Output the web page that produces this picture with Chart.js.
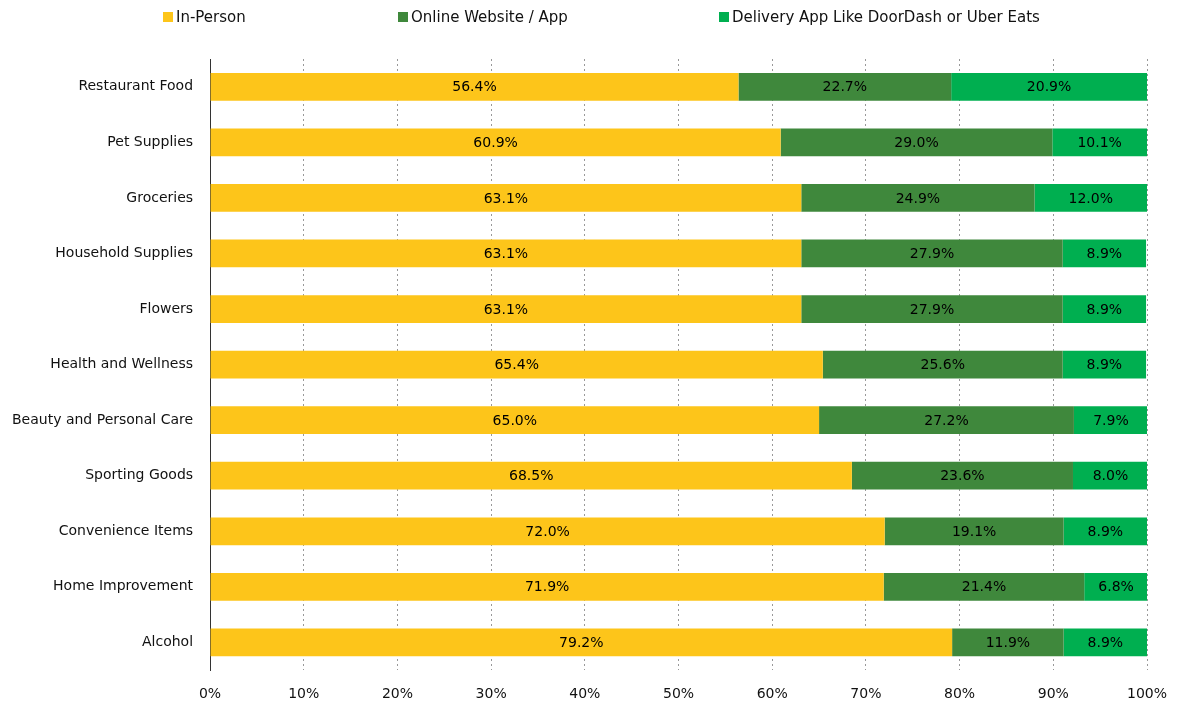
<!DOCTYPE html>
<html>
<head>
<meta charset="utf-8">
<script src="https://cdn.jsdelivr.net/npm/chart.js@4"></script>
<style>
  html, body { margin: 0; padding: 0; background: #fff; }
  #wrap { position: relative; width: 1181px; height: 704px; }
  #legend { position: absolute; top: 0; left: 0; width: 1181px; height: 40px;
    font-family: 'DejaVu Sans', sans-serif; font-size: 15px; color: #111; }
  .item { position: absolute; top: 8px; display: flex; align-items: center; white-space: nowrap; }
  .item span.box { width: 10px; height: 10px; margin-right: 3px; display: inline-block; }
</style>
</head>
<body>
<div id="wrap">
  <div id="legend"></div>
  <canvas id="chart" width="1181" height="704"></canvas>
</div>
<script>
// categories (top to bottom)
const categories = ['Restaurant Food', 'Pet Supplies', 'Groceries', 'Household Supplies', 'Flowers',
  'Health and Wellness', 'Beauty and Personal Care', 'Sporting Goods', 'Convenience Items',
  'Home Improvement', 'Alcohol'];

const seriesNames = ['In-Person', 'Online Website / App', 'Delivery App Like DoorDash or Uber Eats'];

const inPerson = [56.4, 60.9, 63.1, 63.1, 63.1, 65.4, 65.0, 68.5, 72.0, 71.9, 79.2];
const online   = [22.7, 29.0, 24.9, 27.9, 27.9, 25.6, 27.2, 23.6, 19.1, 21.4, 11.9];
const delivery = [20.9, 10.1, 12.0, 8.9, 8.9, 8.9, 7.9, 8.0, 8.9, 6.8, 8.9];

const xTicks = [0, 10, 20, 30, 40, 50, 60, 70, 80, 90, 100];

const colors = ['#FDC51A', '#3F883C', '#00AF50'];
const FONT = "'DejaVu Sans', sans-serif";

// html legend, spaced like the original
const legendLeft = [163, 398, 719];
const legendEl = document.getElementById('legend');
seriesNames.forEach((name, i) => {
  const it = document.createElement('div');
  it.className = 'item';
  it.style.left = legendLeft[i] + 'px';
  it.innerHTML = '<span class="box" style="background:' + colors[i] + '"></span><span>' + name + '</span>';
  legendEl.appendChild(it);
});

// draws value text in the middle of every segment
const valueLabels = {
  id: 'valueLabels',
  afterDatasetsDraw(chart) {
    const ctx = chart.ctx;
    ctx.save();
    ctx.font = '14px ' + FONT;
    ctx.fillStyle = '#000';
    ctx.textAlign = 'center';
    ctx.textBaseline = 'middle';
    chart.data.datasets.forEach((ds, di) => {
      chart.getDatasetMeta(di).data.forEach((bar, i) => {
        const p = bar.getProps(['x', 'y', 'base'], true);
        ctx.fillText(ds.data[i].toFixed(1) + '%', (p.x + p.base) / 2, p.y + 1);
      });
    });
    ctx.restore();
  }
};

const series = [inPerson, online, delivery];

new Chart(document.getElementById('chart'), {
  type: 'bar',
  data: {
    labels: categories,
    datasets: series.map((vals, i) => ({
      label: seriesNames[i],
      data: vals,
      backgroundColor: colors[i],
      borderWidth: 0,
      barPercentage: 0.5,
      categoryPercentage: 1.0
    }))
  },
  options: {
    indexAxis: 'y',
    responsive: false,
    animation: false,
    layout: { padding: { top: 59, left: -5, right: 34, bottom: -15 } },
    plugins: {
      legend: { display: false },
      tooltip: { enabled: false }
    },
    scales: {
      x: {
        stacked: true,
        min: 0,
        max: 100,
        afterBuildTicks: axis => { axis.ticks = xTicks.map(v => ({ value: v })); },
        afterFit: axis => { axis.paddingRight = 0; },
        grid: {
          drawTicks: false,
          color: ctx => ctx.tick && ctx.tick.value === 0 ? 'rgba(0,0,0,0)' : '#999',
          lineWidth: 1
        },
        border: { display: false, dash: [2, 3] },
        ticks: {
          padding: 16,
          color: '#111',
          font: { family: FONT, size: 14 },
          callback: v => v + '%'
        }
      },
      y: {
        stacked: true,
        grid: { display: false, drawTicks: false },
        border: { display: true, color: '#333', width: 1 },
        ticks: {
          padding: 17,
          color: '#111',
          font: { family: FONT, size: 14 }
        }
      }
    }
  },
  plugins: [valueLabels]
});
</script>
</body>
</html>
